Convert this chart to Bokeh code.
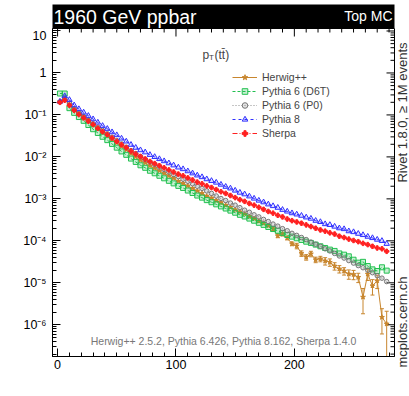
import math
from bokeh.plotting import figure
from bokeh.layouts import row, column
from bokeh.models import (Range1d, FixedTicker, CustomJSTickFormatter,
                          Legend, LegendItem, Label, ColumnDataSource)
from bokeh.embed import file_html
from bokeh.resources import INLINE

# ---------------- data ----------------
bin_centers = list(range(2, 280, 4))  # pT(ttbar) bins of 4 GeV, 0..280

herwig = [0.209, 0.234, 0.178, 0.141, 0.112, 0.0933, 0.0759, 0.0603, 0.0490, 0.0398,
          0.0331, 0.0269, 0.0219, 0.0178, 0.0148, 0.0120, 0.0100, 0.00832, 0.00724, 0.00617,
          0.00537, 0.00468, 0.00407, 0.00355, 0.00309, 0.00263, 0.00234, 0.00204, 0.00178, 0.00155,
          0.00135, 0.00117, 0.00105, 0.000912, 0.000813, 0.000708, 0.000631, 0.000550, 0.000490, 0.000437,
          0.000380, 0.000339, 0.000295, 0.000263, 0.000229, 0.000191, 0.000132, 0.000145, 0.000117, 8.51e-5,
          7.59e-5, 5.01e-5, 4.07e-5, 4.90e-5, 3.55e-5, 3.72e-5, 3.31e-5, 3.09e-5, 2.51e-5, 2.14e-5,
          1.91e-5, 1.62e-5, 1.58e-5, 1.35e-5, 4.57e-6, 1.62e-5, 8.51e-6, 1.12e-5, 1.51e-6, 1.05e-6]
herwig_relerr = [0.01] * 30 + [0.03] * 10 + [0.05] * 5 + [0.1] * 5 + [0.15] * 6 + [0.2] * 5 + \
                [0.25] * 3 + [0.6, 0.3, 0.4, 0.35, 0.6, 1.0]

pythia6_d6t = [0.324, 0.324, 0.145, 0.112, 0.0891, 0.0724, 0.0575, 0.0457, 0.0372, 0.0302,
               0.0251, 0.0204, 0.0166, 0.0135, 0.0112, 0.00912, 0.00759, 0.00631, 0.00550, 0.00468,
               0.00407, 0.00355, 0.00309, 0.00269, 0.00234, 0.00204, 0.00182, 0.00158, 0.00138, 0.00120,
               0.00107, 0.000933, 0.000832, 0.000741, 0.000661, 0.000589, 0.000525, 0.000468, 0.000417, 0.000380,
               0.000339, 0.000302, 0.000269, 0.000240, 0.000214, 0.000191, 0.000174, 0.000155, 0.000138, 0.000126,
               0.000115, 0.000105, 9.55e-5, 8.91e-5, 8.13e-5, 7.41e-5, 6.76e-5, 6.17e-5, 5.75e-5, 5.01e-5,
               4.68e-5, 4.27e-5, 3.55e-5, 3.02e-5, 3.16e-5, 2.51e-5, 2.09e-5, 1.91e-5, 2.34e-5, 1.95e-5]

pythia6_p0 = [0.204, 0.251, 0.191, 0.141, 0.112, 0.0912, 0.0741, 0.0617, 0.0513, 0.0427,
              0.0355, 0.0295, 0.0245, 0.0204, 0.0170, 0.0141, 0.0120, 0.0102, 0.00871, 0.00759,
              0.00661, 0.00575, 0.00501, 0.00437, 0.00380, 0.00339, 0.00295, 0.00263, 0.00229, 0.00200,
              0.00178, 0.00155, 0.00135, 0.00117, 0.00102, 0.000912, 0.000794, 0.000708, 0.000617, 0.000537,
              0.000479, 0.000417, 0.000372, 0.000324, 0.000288, 0.000251, 0.000224, 0.000195, 0.000174, 0.000151,
              0.000135, 0.000120, 0.000107, 9.33e-5, 8.32e-5, 7.41e-5, 6.46e-5, 5.75e-5, 5.01e-5, 4.37e-5,
              3.89e-5, 3.39e-5, 2.95e-5, 2.57e-5, 2.29e-5, 2.00e-5, 1.74e-5, 1.48e-5, 1.29e-5, 1.07e-5]

pythia8 = [0.209, 0.282, 0.229, 0.170, 0.138, 0.115, 0.0955, 0.0794, 0.0661, 0.0550,
           0.0468, 0.0389, 0.0331, 0.0275, 0.0234, 0.0195, 0.0166, 0.0145, 0.0129, 0.0112,
           0.0100, 0.00891, 0.00794, 0.00708, 0.00631, 0.00562, 0.00513, 0.00457, 0.00407, 0.00363,
           0.00331, 0.00295, 0.00269, 0.00245, 0.00219, 0.00195, 0.00178, 0.00158, 0.00141, 0.00129,
           0.00115, 0.00102, 0.000912, 0.000832, 0.000741, 0.000676, 0.000617, 0.000550, 0.000501, 0.000457,
           0.000427, 0.000398, 0.000363, 0.000339, 0.000302, 0.000282, 0.000251, 0.000240, 0.000219, 0.000200,
           0.000191, 0.000170, 0.000162, 0.000148, 0.000138, 0.000126, 0.000117, 0.000107, 0.000100, 8.51e-5]

sherpa = [0.200, 0.224, 0.170, 0.129, 0.102, 0.0851, 0.0708, 0.0589, 0.0479, 0.0398,
          0.0339, 0.0282, 0.0234, 0.0195, 0.0166, 0.0138, 0.0117, 0.0102, 0.00891, 0.00776,
          0.00692, 0.00617, 0.00550, 0.00490, 0.00437, 0.00389, 0.00355, 0.00316, 0.00282, 0.00251,
          0.00229, 0.00204, 0.00186, 0.00166, 0.00148, 0.00135, 0.00120, 0.00107, 0.000955, 0.000871,
          0.000776, 0.000708, 0.000631, 0.000562, 0.000501, 0.000457, 0.000407, 0.000372, 0.000331, 0.000302,
          0.000282, 0.000263, 0.000240, 0.000219, 0.000200, 0.000182, 0.000170, 0.000155, 0.000145, 0.000129,
          0.000120, 0.000110, 0.000102, 9.55e-5, 8.71e-5, 8.13e-5, 7.41e-5, 6.76e-5, 6.46e-5, 5.62e-5]

x_ticks = [0, 100, 200]
x_minor = [v for v in range(10, 290, 10) if v % 100 != 0]
y_ticks = [1e-6, 1e-5, 1e-4, 1e-3, 1e-2, 1e-1, 1, 10]
y_minor = [k * 10.0 ** e for e in range(-7, 2) for k in range(2, 10)]

labels = ["Herwig++", "Pythia 6 (D6T)", "Pythia 6 (P0)", "Pythia 8", "Sherpa"]
colors = ["#c8862e", "#22c050", "#8c8c8c", "#3030ff", "#ff2020"]

# ---------------- geometry ----------------
FONT = "Liberation Sans"
TOTAL_H = 396
TOP_H = 28                      # title bar strip
MAIN_W, MAIN_H = 395, TOTAL_H - TOP_H
SIDE_W = 14
FL, FR = 52, 394                # frame left/right (px)
FB = 356 - TOP_H                # frame bottom inside main figure
fw, fh = FR - FL, FB
X0, X1 = -4.3, 284.6
Y0, Y1 = 1.754e-7, 11.47

# ---------------- title strip ----------------
top = figure(width=MAIN_W, height=TOP_H, output_backend="svg", toolbar_location=None,
             x_range=Range1d(0, 1), y_range=Range1d(0, 1),
             x_axis_location=None, y_axis_location=None,
             min_border_left=FL, min_border_right=MAIN_W - FR, min_border_top=4, min_border_bottom=0)
top.grid.visible = False
top.background_fill_color = "black"
top.border_fill_color = "white"
top.outline_line_color = None
top.add_layout(Label(x=1, y=12, x_units="screen", y_units="screen", text="1960 GeV ppbar",
                     text_font=FONT, text_font_size="19.5px", text_color="white",
                     text_baseline="middle"))
top.add_layout(Label(x=fw - 2, y=12.5, x_units="screen", y_units="screen", text="Top MC",
                     text_font=FONT, text_font_size="14px", text_color="white",
                     text_align="right", text_baseline="middle"))

# ---------------- main plot ----------------
p = figure(width=MAIN_W, height=MAIN_H, output_backend="svg", toolbar_location=None,
           y_axis_type="log", x_range=Range1d(X0, X1), y_range=Range1d(Y0, Y1),
           min_border_left=FL, min_border_right=MAIN_W - FR, min_border_top=0,
           min_border_bottom=MAIN_H - FB)
p.xgrid.visible = False
p.ygrid.visible = False
p.outline_line_color = "black"
p.outline_line_width = 1
p.background_fill_color = "white"
p.border_fill_color = "white"

fmt = CustomJSTickFormatter(code="""
const e = Math.round(Math.log10(tick));
if (e == 0) return "1";
if (e == 1) return "10";
const m = {"-":"\u207b","0":"\u2070","1":"\u00b9","2":"\u00b2","3":"\u00b3","4":"\u2074","5":"\u2075","6":"\u2076","7":"\u2077","8":"\u2078","9":"\u2079"};
return "10" + String(e).split("").map(c => m[c]).join("");
""")

for ax in (p.xaxis[0], p.yaxis[0]):
    ax.major_tick_in = 8
    ax.major_tick_out = 0
    ax.minor_tick_in = 4
    ax.minor_tick_out = 0
    ax.axis_line_color = "black"
    ax.major_tick_line_color = "black"
    ax.minor_tick_line_color = "black"
    ax.major_label_text_font = FONT
    ax.major_label_text_font_size = "12.5px"
    ax.major_label_text_color = "black"
p.xaxis.ticker = FixedTicker(ticks=x_ticks, minor_ticks=x_minor)
p.yaxis.ticker = FixedTicker(ticks=y_ticks, minor_ticks=y_minor)
p.yaxis.formatter = fmt
p.xaxis.major_label_standoff = 3
p.yaxis.major_label_standoff = 6

# mirror ticks on the top and right edges of the frame
px_per_x = fw / (X1 - X0)
px_per_dec = fh / (math.log10(Y1) - math.log10(Y0))
top_x = x_ticks + x_minor
top_len = [8] * len(x_ticks) + [4] * len(x_minor)
p.segment(x0=top_x, x1=top_x, y0=[Y1] * len(top_x),
          y1=[Y1 / 10 ** (L / px_per_dec) for L in top_len], line_color="black", line_width=1)
right_y = y_ticks + y_minor
right_len = [8] * len(y_ticks) + [4] * len(y_minor)
p.segment(x0=[X1] * len(right_y), x1=[X1 - L / px_per_x for L in right_len],
          y0=right_y, y1=right_y, line_color="black", line_width=1)

# ---------------- series ----------------
src = ColumnDataSource(dict(x=bin_centers, h=herwig, d=pythia6_d6t, p0=pythia6_p0,
                            p8=pythia8, s=sherpa,
                            hu=[v * (1 + r) for v, r in zip(herwig, herwig_relerr)],
                            hl=[max(v * (1 - r), 1e-9) for v, r in zip(herwig, herwig_relerr)]))

items = []
l_h = p.line("x", "h", source=src, line_color=colors[0], line_width=1)
p.segment(x0="x", y0="hl", x1="x", y1="hu", source=src, line_color=colors[0], line_width=1)
p.scatter("x", "hu", source=src, marker="dash", size=4, line_color=colors[0])
p.scatter("x", "hl", source=src, marker="dash", size=4, line_color=colors[0])
m_h = p.scatter("x", "h", source=src, marker="star", size=5, line_color=colors[0], fill_color=colors[0])
items.append(LegendItem(label=labels[0], renderers=[l_h, m_h]))

l_d = p.line("x", "d", source=src, line_color=colors[1], line_width=1, line_dash="3 2")
m_d = p.scatter("x", "d", source=src, marker="square", size=5, line_color=colors[1],
                fill_color=colors[1], fill_alpha=0.25)
items.append(LegendItem(label=labels[1], renderers=[l_d, m_d]))

l_p0 = p.line("x", "p0", source=src, line_color=colors[2], line_width=1, line_dash="1 2")
m_p0 = p.scatter("x", "p0", source=src, marker="circle", size=4.5, line_color="#777777",
                 fill_color=colors[2], fill_alpha=0.25)
items.append(LegendItem(label=labels[2], renderers=[l_p0, m_p0]))

l_p8 = p.line("x", "p8", source=src, line_color=colors[3], line_width=1, line_dash="3 3")
m_p8 = p.scatter("x", "p8", source=src, marker="triangle", size=5.5, line_color=colors[3],
                 fill_color=colors[3], fill_alpha=0.15)
items.append(LegendItem(label=labels[3], renderers=[l_p8, m_p8]))

l_s = p.line("x", "s", source=src, line_color=colors[4], line_width=1, line_dash="5 2 1 2")
m_s = p.scatter("x", "s", source=src, marker="plus", size=4.5, line_color=colors[4], fill_color=colors[4])
items.append(LegendItem(label=labels[4], renderers=[l_s, m_s]))

legend = Legend(items=items, location=(180, 216), padding=0, margin=0, spacing=0,
                label_height=14, glyph_height=14, glyph_width=25, label_standoff=5,
                label_text_font=FONT, label_text_font_size="10.5px",
                border_line_color=None, background_fill_alpha=0)
p.add_layout(legend, "center")

# observable label p_T(tt-bar)
p.add_layout(Label(x=150, y=fh - 26, x_units="screen", y_units="screen", text="p",
                   text_font=FONT, text_font_size="12px", text_baseline="alphabetic"))
p.add_layout(Label(x=156.5, y=fh - 29, x_units="screen", y_units="screen", text="T",
                   text_font=FONT, text_font_size="8px", text_baseline="alphabetic"))
p.add_layout(Label(x=162, y=fh - 26, x_units="screen", y_units="screen", text="(tt\u0304)",
                   text_font=FONT, text_font_size="12px", text_baseline="alphabetic"))
# generator versions
p.add_layout(Label(x=171, y=15.5, x_units="screen", y_units="screen",
                   text="Herwig++ 2.5.2, Pythia 6.426, Pythia 8.162, Sherpa 1.4.0",
                   text_font=FONT, text_font_size="10.5px", text_color="#777777",
                   text_align="center", text_baseline="alphabetic"))

# ---------------- side strip with rotated texts ----------------
side = figure(width=SIDE_W, height=TOTAL_H, output_backend="svg", toolbar_location=None,
              x_range=Range1d(0, 1), y_range=Range1d(0, 1),
              x_axis_location=None, y_axis_location=None,
              min_border_left=0, min_border_right=0, min_border_top=0, min_border_bottom=0)
side.grid.visible = False
side.outline_line_color = None
side.background_fill_color = "white"
side.border_fill_color = "white"
side.add_layout(Label(x=7, y=TOTAL_H - 112, x_units="screen", y_units="screen",
                      text="Rivet 1.8.0, \u2265 1M events", angle=math.pi / 2,
                      text_font=FONT, text_font_size="13px", text_color="#333333",
                      text_align="center", text_baseline="middle"))
side.add_layout(Label(x=7, y=TOTAL_H - 367, x_units="screen", y_units="screen",
                      text="mcplots.cern.ch", angle=math.pi / 2,
                      text_font=FONT, text_font_size="13px", text_color="#333333",
                      text_align="left", text_baseline="middle"))

layout = row(column(top, p, spacing=0), side, spacing=0)
open("out.html", "w").write(file_html(layout, INLINE))
